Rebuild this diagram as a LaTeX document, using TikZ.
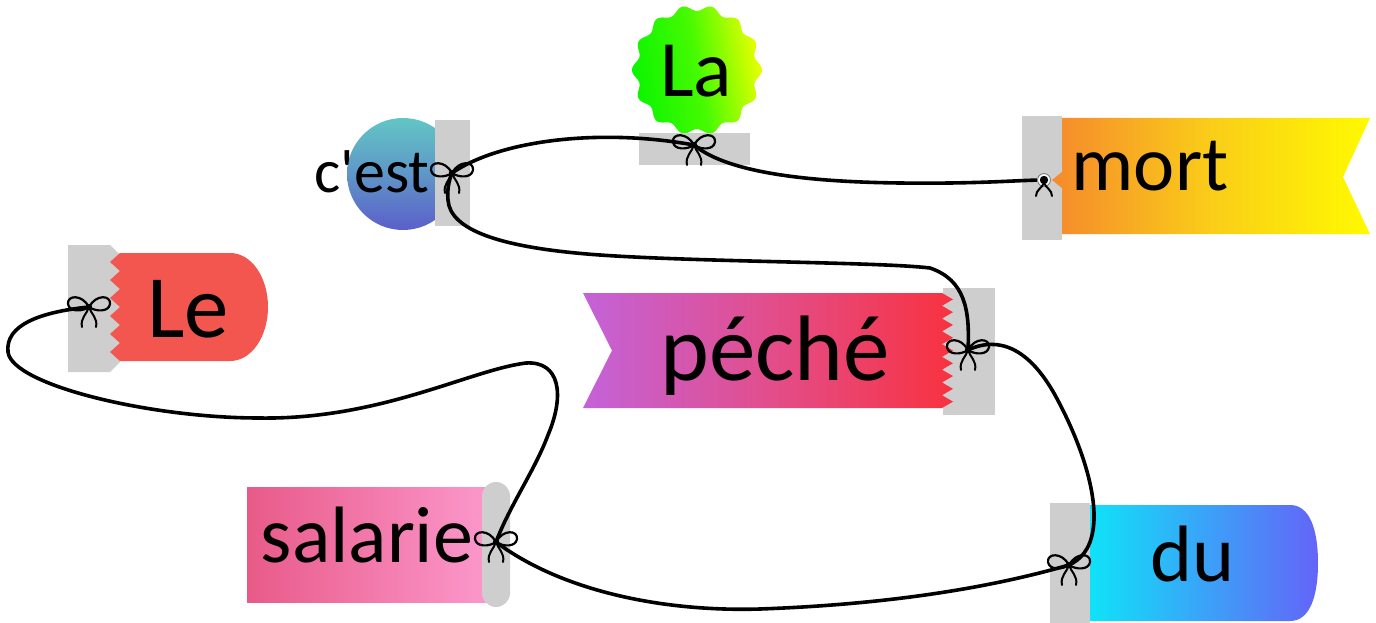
\documentclass[tikz,border=0pt]{standalone}
\usepackage{fontspec}
\setmainfont{Carlito}
\newfontfamily\plainfont{Carlito}
\definecolor{tagGrey}{RGB}{206,206,206}
\definecolor{leRed}{RGB}{242,86,78}
\definecolor{cestTop}{RGB}{98,198,196}
\definecolor{cestBot}{RGB}{91,95,201}
\definecolor{laGreen}{RGB}{10,245,0}
\definecolor{laMid}{RGB}{70,250,0}
\definecolor{laYellow}{RGB}{235,255,0}
\definecolor{mortOrange}{RGB}{245,138,44}
\definecolor{mortMid}{RGB}{250,205,25}
\definecolor{mortYellow}{RGB}{255,250,0}
\definecolor{pePurple}{RGB}{196,98,216}
\definecolor{peMid}{RGB}{226,78,140}
\definecolor{peRed}{RGB}{248,50,64}
\definecolor{salLeft}{RGB}{232,90,136}
\definecolor{salRight}{RGB}{252,152,204}
\definecolor{duLeft}{RGB}{16,226,248}
\definecolor{duRight}{RGB}{100,100,248}
\tikzset{
  string/.style={line width=3.6pt, black, line cap=round},
  word/.style={inner sep=0pt, anchor=base, text=black},
  bowknot/.pic={
    \draw[line width=2.2pt, line join=round]
      (0,0) .. controls (-7,-13) and (-22,-12) .. (-21,-3)
            .. controls (-20,5) and (-7,5) .. (0,0)
            .. controls (7,-13) and (22,-12) .. (21,-3)
            .. controls (20,5) and (7,5) .. (0,0);
    \draw[line width=2pt, line cap=round] (0,0) .. controls (-2,7) and (-9,11) .. (-7,20);
    \draw[line width=2pt, line cap=round] (0,0) .. controls (2,7) and (9,11) .. (7,20);
    \fill (0,0) circle (3.2);
  },
  eyelet/.pic={
    \fill[white] (0,0) circle (7);
    \draw[line width=1pt, gray] (0,0) circle (6.5);
    \fill (0,0) circle (4.2);
    \draw[line width=2pt, line cap=round] (0,3) .. controls (-2,8) and (-8,10) .. (-8,16);
    \draw[line width=2pt, line cap=round] (0,3) .. controls (2,8) and (8,10) .. (8,16);
  }
}
\begin{document}
\begin{tikzpicture}[x=1pt,y=-1pt]
\useasboundingbox (0,0) rectangle (1376,623);

% ---- Le ----
\fill[tagGrey] (68,245) -- (110,245) -- (120,255) -- (120,362) -- (110,372) -- (68,372) -- cycle;
\fill[leRed] (120,253) -- (230,253) .. controls (252,253) and (268,278) .. (268,307)
  .. controls (268,336) and (252,361) .. (230,361) -- (120,361)
  \foreach \i in {0,...,5} { -- (110,{361-18*\i-9}) -- (120,{361-18*(\i+1)}) } -- cycle;
\node[word, font=\fontsize{89}{89}\selectfont] (tLe) at (188,337) {Le};

% ---- c'est ----
\shade[top color=cestTop, bottom color=cestBot, middle color={rgb,255:red,95;green,150;blue,200}] (403,174) circle (56);
\fill[tagGrey] (435,120) rectangle (470,226);
\node[word, font=\plainfont\fontsize{62}{62}\selectfont] (tCe) at (372,192) {c'est};

% ---- La ----
\shade[left color=laGreen, right color=laYellow, middle color=laMid, shading angle=100]
  plot[domain=0:360, samples=240, smooth] ({697+(62+3*cos(14*\x))*cos(\x)}, {70+(62+3*cos(14*\x))*sin(\x)}) -- cycle;
\fill[tagGrey] (639,133) rectangle (750,165);
\node[word, font=\fontsize{80}{80}\selectfont] (tLa) at (696,97) {La};

% ---- mort ----
\fill[tagGrey] (1022,116) rectangle (1062,240);
\shade[left color=mortOrange, right color=mortYellow, middle color=mortMid]
  (1062,118) -- (1370,118) -- (1343,177) -- (1370,234) -- (1062,234) -- (1062,188) -- (1052,180) -- (1062,172) -- cycle;
\node[word, font=\fontsize{78}{78}\selectfont] (tMo) at (1150,190) {mort};

% ---- péché ----
\fill[tagGrey] (943,288) rectangle (995,415);
\shade[left color=pePurple, right color=peRed, middle color=peMid]
  (583,293) -- (942,293)
  \foreach \i in {0,...,8} { -- (953,{293+12.78*(\i+0.5)}) -- (942,{293+12.78*(\i+1)}) }
  -- (583,408) -- (612,350.5) -- cycle;
\node[word, font=\fontsize{93}{93}\selectfont] (tPe) at (775,380) {péché};

% ---- salarie ----
\shade[left color=salLeft, right color=salRight] (247,487) rectangle (490,602);
\fill[tagGrey, rounded corners=14pt] (482,482) rectangle (510,607);
\node[word, font=\fontsize{80}{80}\selectfont] (tSa) at (367,562) {salarie};

% ---- du ----
\fill[tagGrey] (1050,503) rectangle (1090,623);
\shade[left color=duLeft, right color=duRight]
  (1090,505) -- (1290,505) .. controls (1310,505) and (1318,530) .. (1318,563)
  .. controls (1318,596) and (1310,621) .. (1290,621) -- (1090,621) -- cycle;
\node[word, font=\fontsize{80}{80}\selectfont] (tDu) at (1193,581) {du};

% ---- knots ----
\coordinate (kLe) at (89,307);
\coordinate (kCe) at (452,173);
\coordinate (kLa) at (694,145);
\coordinate (kMo) at (1044,180);
\coordinate (kPe) at (968,350);
\coordinate (kSa) at (496,542);
\coordinate (kDu) at (1069,565);

% ---- strings ----
\draw[string] (kLe) .. controls (40,312) and (5,325) .. (8,352)
  .. controls (12,385) and (150,418) .. (259,418)
  .. controls (380,420) and (470,370) .. (526,363)
  .. controls (560,361) and (565,395) .. (548,435)
  .. controls (535,470) and (510,505) .. (kSa);
\draw[string] (kSa) .. controls (560,590) and (660,612) .. (760,609)
  .. controls (900,604) and (1000,585) .. (kDu);
\draw[string] (kPe) .. controls (1000,335) and (1030,350) .. (1055,395)
  .. controls (1085,450) and (1098,500) .. (1093,530)
  .. controls (1090,550) and (1080,560) .. (kDu);
\draw[string] (kPe) .. controls (970,310) and (965,280) .. (930,268)
  .. controls (880,262) and (700,262) .. (600,255)
  .. controls (500,248) and (450,230) .. (448,200)
  .. controls (447,190) and (449,180) .. (kCe);
\draw[string] (kCe) .. controls (500,140) and (600,128) .. (kLa);
\draw[string] (kLa) .. controls (730,175) and (820,182) .. (900,183)
  .. controls (980,184) and (1020,180) .. (kMo);

\pic at (kLe) {bowknot};
\pic at (kCe) {bowknot};
\pic at (kLa) {bowknot};
\pic at (kPe) {bowknot};
\pic at (kSa) {bowknot};
\pic at (kDu) {bowknot};
\pic at (kMo) {eyelet};
\end{tikzpicture}
\end{document}
